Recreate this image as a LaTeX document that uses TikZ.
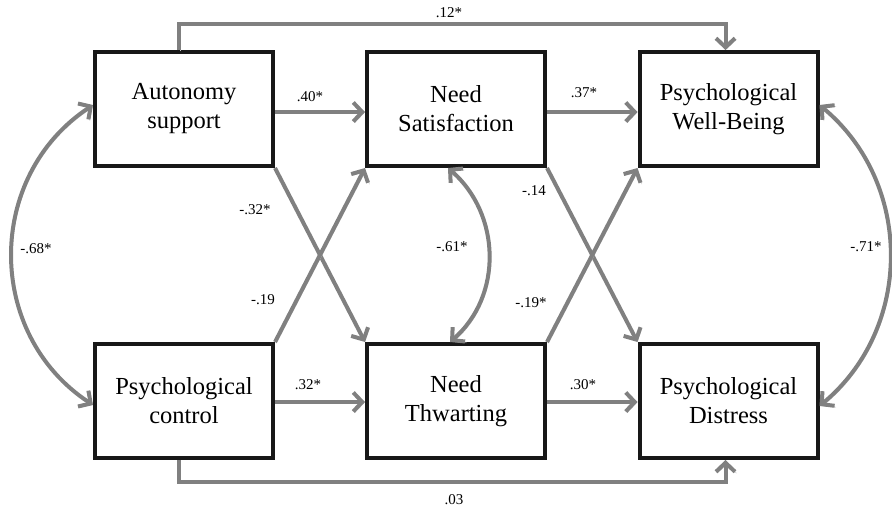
\documentclass[tikz,border=0pt]{standalone}
\usepackage{fontspec}
\setmainfont{Liberation Serif}
\usetikzlibrary{arrows.meta}
\definecolor{pathgray}{RGB}{128,128,128}
\definecolor{shadegray}{RGB}{198,198,198}
\definecolor{boxline}{RGB}{24,24,24}
\begin{document}
\begin{tikzpicture}[x=1pt,y=-1pt,
  construct/.style={draw=boxline, line width=4pt, minimum width=178pt,
    minimum height=114pt, align=center, inner sep=0pt,
    font=\fontsize{24.5}{29}\selectfont},
  barb/.tip={Straight Barb[length=9pt,width=19pt]},
  effect/.style={draw=pathgray, line width=4pt, -barb,
    preaction={draw=shadegray, transform canvas={shift={(1.4pt,-1.4pt)}}}},
  corr/.style={effect, barb-barb},
  coef/.style={inner sep=0pt, font=\fontsize{15}{18}\selectfont}
]
\useasboundingbox (0,0) rectangle (892,511);

% constructs
\node[construct] (as) at (184,109)   {Autonomy\\support};
\node[construct] (ns) at (456,109)   {Need\\Satisfaction};
\node[construct] (wb) at (728.5,109) {Psychological\\Well-Being};
\node[construct] (pc) at (184,401)   {Psychological\\control};
\node[construct] (nt) at (456,401)   {Need\\Thwarting};
\node[construct] (pd) at (728.5,401) {Psychological\\Distress};

% rails for the two direct paths
\coordinate (toprail) at (0,24);
\coordinate (botrail) at (0,482);

% direct paths around the mediators
\draw[effect] ([xshift=-5pt]as.north) -- ([xshift=-5pt]as.north |- toprail)
  -| ([xshift=-3pt]wb.north);
\draw[effect] ([xshift=-5pt]pc.south) -- ([xshift=-5pt]pc.south |- botrail)
  -| ([xshift=-3pt]pd.south);

% straight paths
\draw[effect] ([yshift=-3pt]as.east) -- ([yshift=-3pt]ns.west);
\draw[effect] ([yshift=-3pt]ns.east) -- ([yshift=-3pt]wb.west);
\draw[effect] ([yshift=-1pt]pc.east) -- ([yshift=-1pt]nt.west);
\draw[effect] ([yshift=-1pt]nt.east) -- ([yshift=-1pt]pd.west);

% crossing paths
\draw[effect] (as.south east) -- (nt.north west);
\draw[effect] (pc.north east) -- (ns.south west);
\draw[effect] (ns.south east) -- (pd.north west);
\draw[effect] (nt.north east) -- (wb.south west);

% correlations
\draw[corr] ([yshift=4pt]as.west) .. controls +(-108,71) and +(-108,-71)
  .. ([yshift=-4pt]pc.west);
\draw[corr] ([yshift=4pt]wb.east) .. controls +(94,78) and +(94,-78)
  .. ([yshift=-5pt]pd.east);
\draw[corr] ([xshift=-6pt]nt.north) .. controls +(53,-46) and +(53,46)
  .. ([xshift=-8pt]ns.south);

% coefficients
\node[coef] (c12) at (449,13)  {.12*};
\node[coef] (c03) at (454,500) {.03};
\node[coef] (c40) at (310,97)  {.40*};
\node[coef] (c37) at (584,93)  {.37*};
\node[coef] (c32) at (308,385) {.32*};
\node[coef] (c30) at (583,385) {.30*};
\node[coef] (m32) at (255,210) {-.32*};
\node[coef] (m19) at (263,300) {-.19};
\node[coef] (m68) at (36,249)  {-.68*};
\node[coef] (m61) at (452,247) {-.61*};
\node[coef] (m14) at (534,191) {-.14};
\node[coef] (m19s) at (531,303) {-.19*};
\node[coef] (m71) at (866,247) {-.71*};
\end{tikzpicture}
\end{document}
